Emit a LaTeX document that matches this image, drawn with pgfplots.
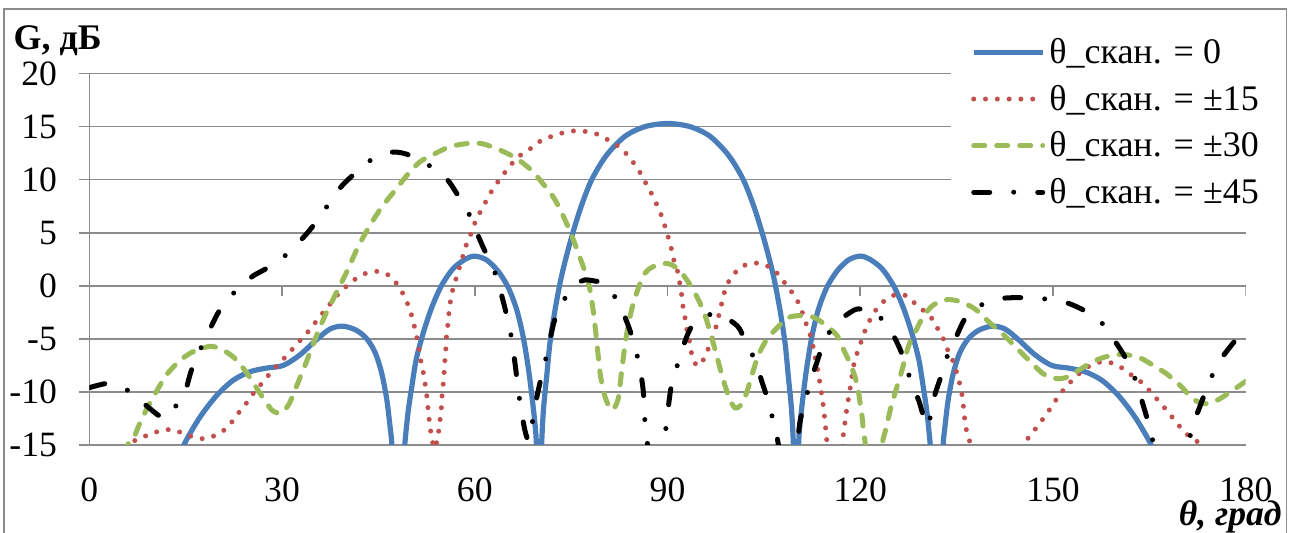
\documentclass[border=0pt]{standalone}
\usepackage{fontspec}
\setmainfont{Liberation Serif}
\usepackage{pgfplots}
\pgfplotsset{compat=1.18}
\definecolor{cblue}{HTML}{4A7EBB}
\definecolor{cred}{HTML}{C0504D}
\definecolor{cgreen}{HTML}{9BBB59}
\definecolor{cgrid}{HTML}{8C8C8C}
\begin{document}
\begin{tikzpicture}
\path[use as bounding box] (0pt,0pt) rectangle (646.5pt,266.5pt);
\draw[cgrid, line width=0.75pt] (2pt,-3pt) -- (2pt,262pt) -- (643.35pt,262pt) -- (643.35pt,-3pt);
\begin{axis}[
  at={(44.65pt,44pt)}, anchor=south west,
  scale only axis, width=578.2pt, height=185.7pt,
  xmin=0, xmax=180, ymin=-15, ymax=20,
  axis lines*=left, axis line style={-},
  x axis line style={draw=none},
  y axis line style={cgrid, line width=0.75pt},
  xtick={0,30,...,180}, ytick={-15,-10,...,20},
  xticklabels={0,30,60,90,120,150,180},
  yticklabels={-15,-10,-5,0,5,10,15,20},
  x tick style={draw=none},
  y tick style={cgrid, line width=0.75pt},
  xtick align=inside, ytick align=outside, major tick length=5pt,
  ymajorgrids, grid style={cgrid, line width=0.75pt},
  ticklabel style={font=\fontsize{17.8}{20}\selectfont},
  xticklabel style={anchor=north, inner sep=0pt, yshift=-16pt},
  yticklabel style={anchor=east, inner sep=0pt, xshift=-11pt},
  xlabel={θ, град},
  every axis x label/.style={at={(1.0314,-0.218)}, anchor=base east, inner sep=0pt, font=\fontsize{17.8}{20}\selectfont\bfseries\itshape},
  ylabel={G, дБ},
  every axis y label/.style={at={(-0.0657,1.0654)}, anchor=base west, inner sep=0pt, font=\fontsize{18}{20}\selectfont\bfseries},
  legend style={at={(0.7449,1.1228)}, anchor=north west, draw=none, fill=white,
    inner xsep=10pt, inner ysep=3pt, font=\fontsize{18}{20}\selectfont, row sep=5.2pt},
  legend cell align=left,
  legend image code/.code={\draw[#1] (0pt,0pt) -- (34.5pt,0pt);},
]
\draw[cgrid, line width=0.75pt] (axis cs:0,0) -- ++(0pt,-5pt);
\draw[cgrid, line width=0.75pt] (axis cs:30,0) -- ++(0pt,-5pt);
\draw[cgrid, line width=0.75pt] (axis cs:60,0) -- ++(0pt,-5pt);
\draw[cgrid, line width=0.75pt] (axis cs:90,0) -- ++(0pt,-5pt);
\draw[cgrid, line width=0.75pt] (axis cs:120,0) -- ++(0pt,-5pt);
\draw[cgrid, line width=0.75pt] (axis cs:150,0) -- ++(0pt,-5pt);
\draw[cgrid, line width=0.75pt] (axis cs:180,0) -- ++(0pt,-5pt);

\addplot[cblue, line width=2.6pt, smooth] coordinates {
(13.5,-17) (14.8,-14.9) (17.2,-12.4) (19.8,-10.35) (22.4,-8.9) (25.0,-8.1) (27.6,-7.75) (30.2,-7.5)
(32.8,-6.5) (35.4,-5.06) (37.5,-4.06) (39.5,-3.8) (41.6,-4.2) (43.2,-5.0) (44.5,-6.3) (45.5,-8.2)
(46.3,-10.7) (46.8,-13.2) (47.1,-15) (47.4,-19) (48.0,-24) (48.6,-19) (49.1,-15) (49.6,-12.0)
(50.2,-9.5) (50.9,-6.9) (52.0,-4.4) (53.3,-2.05) (54.8,0) (56.6,1.6) (58.5,2.5) (60.0,2.8)
(61.8,2.45) (63.6,1.4) (65.2,-0.15) (66.5,-2.2) (67.5,-4.7) (68.3,-7.6) (68.9,-10.4) (69.4,-13.2)
(69.6,-15) (69.8,-19) (70.0,-24) (70.2,-19) (70.4,-15) (70.7,-11.6) (71.2,-8.5) (71.7,-5.4)
(72.5,-2.25) (73.5,0.9) (74.8,4.0) (76.4,7.2) (78.2,10.0) (80.5,12.3) (83.4,14.1) (86.5,15.0) (90,15.3)
(93.5,15.0) (96.6,14.1) (99.5,12.3) (101.8,10.0) (103.6,7.2) (105.2,4.0) (106.5,0.9) (107.5,-2.25)
(108.3,-5.4) (108.8,-8.5) (109.3,-11.6) (109.6,-15) (109.8,-19) (110.0,-24) (110.2,-19) (110.4,-15)
(110.6,-13.2) (111.1,-10.4) (111.7,-7.6) (112.5,-4.7) (113.5,-2.2) (114.8,-0.15) (116.4,1.4) (118.2,2.45)
(120.0,2.8) (121.5,2.5) (123.4,1.6) (125.2,0) (126.7,-2.05) (128.0,-4.4) (129.1,-6.9) (129.8,-9.5)
(130.4,-12.0) (130.9,-15) (131.4,-19) (132.0,-24) (132.6,-19) (132.9,-15) (133.2,-13.2) (133.7,-10.7)
(134.5,-8.2) (135.5,-6.3) (136.8,-5.0) (138.4,-4.2) (140.5,-3.8) (142.5,-4.06) (144.6,-5.06) (147.2,-6.5)
(149.8,-7.5) (152.4,-7.75) (155.0,-8.1) (157.6,-8.9) (160.2,-10.35) (162.8,-12.4) (165.2,-14.9) (166.5,-17)
};
\addlegendentry{θ\_скан. = 0}

\addplot[cred, line width=2.5pt, line cap=round, dash pattern=on 0pt off 5.9pt, smooth] coordinates {
(4.5,-22) (5.5,-17) (6.3,-14.9) (7.6,-14.5) (9.3,-14.0) (11.2,-13.65) (12.9,-13.55) (14.6,-13.9)
(16.5,-14.3) (18.2,-14.4) (19.9,-14.0) (21.4,-13.4) (22.6,-12.5) (23.7,-11.6) (24.8,-10.8) (25.8,-9.9)
(27.0,-9.1) (28.2,-8.2) (29.4,-7.4) (30.7,-6.6) (32.0,-5.7) (33.2,-4.9) (34.5,-4.0) (35.5,-3.2)
(36.7,-2.3) (37.9,-1.4) (39.0,-0.6) (40.3,0.1) (41.8,0.8) (43.4,1.25) (45.3,1.35) (46.8,0.9)
(48.1,0.0) (49.0,-0.95) (49.75,-2.0) (50.3,-3.06) (50.7,-4.1) (51.1,-5.2) (51.4,-6.3) (51.7,-7.4)
(52.1,-8.5) (52.35,-9.6) (52.6,-10.7) (52.75,-11.8) (52.97,-12.9) (53.2,-14.0) (53.5,-15) (53.75,-17)
(54.06,-14.7) (54.4,-13.65) (54.6,-12.6) (54.8,-11.5) (54.9,-10.4) (55.1,-9.2) (55.25,-8.1) (55.35,-7.0)
(55.5,-5.9) (55.6,-4.8) (55.8,-3.7) (55.97,-2.6) (56.2,-1.5) (56.6,-0.3) (57.2,0.9) (57.7,1.9)
(58.2,2.9) (58.7,3.9) (59.4,4.9) (60.0,5.9) (60.8,6.9) (61.6,7.8) (62.5,8.8) (63.6,9.8)
(64.7,10.7) (65.9,11.6) (67.1,12.3) (68.6,12.9) (70.1,13.6) (71.85,14.06) (73.6,14.4) (75.4,14.6)
(77.2,14.55) (79.0,14.3) (80.6,13.8) (82.2,13.2) (83.5,12.5) (84.7,11.6) (85.7,10.7) (86.6,9.7)
(87.5,8.7) (88.3,7.7) (89.0,6.7) (89.6,5.6) (90.1,4.6) (90.6,3.5) (91.0,2.4) (91.6,1.3)
(91.9,0.25) (92.2,-0.85) (92.4,-1.9) (92.7,-2.9) (93.0,-4.1) (93.4,-5.2) (93.8,-6.5) (94.4,-7.4)
(95.0,-7.5) (95.9,-6.6) (96.6,-5.5) (97.4,-4.2) (98.2,-2.25) (99.1,-0.1) (100.0,0.8) (101.1,1.6)
(102.7,2.1) (104.5,2.1) (106.2,1.65) (107.5,0.9) (108.8,-0.2) (109.7,-0.85) (110.6,-1.9) (111.6,-3.6)
(112.4,-5.0) (113.0,-6.8) (113.5,-8.3) (113.8,-9.5) (114.1,-10.6) (114.3,-11.6) (114.5,-12.7) (114.7,-14.0)
(114.9,-15.3) (115.5,-19) (116.1,-22) (116.8,-19) (117.3,-14.85) (117.4,-13.7) (117.7,-12.6) (117.9,-11.6)
(118.2,-10.5) (118.5,-9.4) (118.8,-8.2) (119.1,-7.15) (119.7,-6.0) (120.3,-5.0) (120.9,-4.0) (121.7,-3.0)
(122.7,-2.05) (124.0,-1.3) (125.7,-0.8) (127.4,-1.0) (128.8,-1.85) (130.2,-2.5) (131.3,-3.2) (132.2,-4.2)
(133.1,-5.2) (133.8,-6.35) (134.6,-7.3) (135.1,-8.4) (135.6,-9.5) (135.9,-10.5) (136.1,-11.6) (136.3,-12.75)
(136.6,-13.8) (137.1,-14.85) (137.8,-17.5) (141,-24) (144.8,-18) (145.7,-14.85) (146.7,-14.0) (147.7,-13.1)
(148.9,-12.2) (149.9,-11.25) (151.0,-10.3) (152.2,-9.4) (153.5,-8.6) (155.0,-7.8) (156.6,-7.3) (158.1,-7.15)
(159.8,-7.4) (161.1,-7.9) (162.2,-8.4) (163.0,-8.7) (164.3,-9.4) (165.5,-10.2) (166.8,-11.1) (168.0,-11.95)
(169.1,-12.8) (170.3,-13.65) (171.6,-14.4) (173.1,-15.0) (174.5,-17)
};
\addlegendentry{θ\_скан. = ±15}

\addplot[cgreen, line width=2.5pt, line cap=round, dash pattern=on 5.5pt off 6pt, smooth] coordinates {
(5.0,-18) (5.8,-15.2) (6.85,-14.4) (7.9,-12.9) (9.2,-11.3) (10.5,-9.9) (12.0,-8.4) (13.9,-7.15)
(15.7,-6.35) (17.5,-5.9) (19.0,-5.7) (20.6,-6.0) (22.4,-6.7) (24.2,-7.95) (25.8,-9.4) (27.3,-10.8)
(28.6,-11.8) (30.0,-11.95) (31.2,-11.0) (32.5,-9.1) (33.8,-7.15) (35.1,-5.1) (36.7,-2.8) (38.5,-0.6)
(40.1,1.35) (41.9,3.75) (43.7,5.7) (45.5,7.4) (47.6,9.0) (49.7,10.6) (51.5,11.7) (53.6,12.4)
(56.1,13.1) (58.7,13.4) (61.1,13.4) (63.9,12.8) (66.5,12.0) (68.8,10.9) (70.65,9.6) (72.5,8.1)
(74.5,5.6) (76.1,3.1) (77.65,0.4) (78.4,-2.2) (79.0,-5.3) (79.5,-8.2) (80.25,-10.4) (81.3,-11.7)
(82.3,-10.7) (82.9,-7.85) (83.6,-4.7) (84.7,-1.6) (86.5,1.2) (88.8,2.05) (90.6,2.0) (92.2,1.2)
(93.5,0.1) (94.8,-1.3) (95.8,-2.7) (96.6,-4.3) (97.4,-6.0) (98.1,-7.6) (98.9,-9.3) (99.7,-10.7)
(100.5,-11.5) (101.5,-11.2) (102.3,-10.1) (103.1,-8.5) (104.1,-6.6) (105.4,-5.1) (107.0,-4.0) (108.8,-3.0)
(110.9,-2.8) (112.9,-3.0) (114.8,-3.8) (116.4,-4.7) (117.4,-6.0) (118.4,-7.3) (119.2,-8.6) (119.7,-9.9)
(120.0,-11.15) (120.3,-12.4) (120.5,-13.7) (120.8,-15) (121.4,-19) (122.1,-22) (122.8,-19) (123.4,-15)
(123.9,-13.7) (124.4,-12.4) (124.9,-11.15) (125.7,-9.55) (126.5,-7.95) (127.5,-5.7) (128.6,-4.3) (129.9,-2.8)
(131.4,-1.8) (133.5,-1.3) (135.6,-1.5) (137.9,-2.2) (140.2,-3.5) (142.3,-4.6) (144.4,-5.9) (146.5,-7.15)
(148.5,-8.3) (150.6,-8.75) (152.2,-8.6) (154.0,-7.95) (155.8,-7.3) (157.6,-6.8) (159.7,-6.5) (161.5,-6.5)
(163.6,-6.8) (165.6,-7.5) (167.7,-8.3) (169.8,-9.4) (171.9,-10.7) (173.7,-11.1) (175.5,-10.8) (177.6,-10.0) (180,-9.0)
};
\addlegendentry{θ\_скан. = ±30}

\addplot[black, line width=2.5pt, line cap=round, dash pattern=on 8pt off 12pt on 0pt off 12pt, smooth] coordinates {
(0,-9.6) (2.7,-9.2) (4.5,-9.4) (6.1,-9.9) (8.9,-11.3) (11.0,-12.3) (12.2,-12.4) (13.6,-11.2)
(14.9,-10.0) (15.9,-7.95) (17.5,-5.7) (19.0,-3.8) (20.3,-2.3) (22.6,-0.6) (25.3,0.85) (27.6,1.65)
(30.6,2.9) (33.3,4.55) (34.9,5.7) (36.9,7.4) (39.0,9.2) (40.8,10.3) (43.7,11.8) (47.1,12.6)
(49.9,12.3) (53.0,11.3) (55.6,10.1) (57.4,8.5) (59.2,6.65) (61.1,3.9) (63.1,1.3) (64.4,-1.4)
(65.6,-4.5) (66.25,-7.25) (66.9,-10.4) (67.8,-13.6) (68.5,-14.6) (69.1,-12.3) (69.9,-9.8) (71.2,-6.5)
(72.3,-3.5) (73.3,-1.9) (74.5,-0.8) (76.0,0.2) (77.1,0.55) (78.7,0.45) (80.0,0.2) (82.2,-1.4)
(84.1,-4.1) (85.4,-6.9) (86.2,-9.75) (86.5,-12.9) (86.9,-15) (87.5,-19) (88.3,-22) (89.1,-19)
(89.5,-15) (89.85,-12.9) (90.6,-9.4) (91.8,-7.0) (92.8,-5.1) (93.8,-3.8) (95.4,-3.0) (97.4,-2.6)
(98.8,-2.9) (100.9,-3.8) (101.9,-4.9) (103.5,-6.9) (105.0,-9.6) (105.6,-10.7) (106.4,-12.6) (107.2,-14.75)
(107.9,-18) (108.8,-20) (109.8,-17) (110.6,-12.9) (111.4,-11.0) (112.2,-9.1) (113.2,-7.3) (114.3,-5.4)
(116.1,-3.6) (119.0,-2.3) (120.3,-2.2) (121.6,-2.3) (124.1,-3.6) (126.0,-5.7) (127.0,-7.3) (128.0,-9.2)
(129.1,-10.8) (130.0,-12.6) (130.6,-13.2) (131.4,-10.7) (132.7,-8.3) (133.5,-6.7) (134.8,-5.0) (136.3,-3.1)
(138.2,-2.0) (141.8,-1.2) (147.0,-1.15) (151.6,-1.5) (154.8,-2.3) (157.3,-3.3) (159.4,-5.0) (161.2,-6.7)
(162.5,-8.3) (163.6,-10.35) (164.6,-12.4) (165.4,-14.2) (166.3,-17) (168.2,-20) (170.6,-16.5) (171.6,-13.4)
(172.6,-11.8) (173.8,-9.9) (175.2,-7.9) (176.5,-6.6) (179.0,-4.7) (180,-4.3)
};
\addlegendentry{θ\_скан. = ±45}
\end{axis}
\end{tikzpicture}
\end{document}
